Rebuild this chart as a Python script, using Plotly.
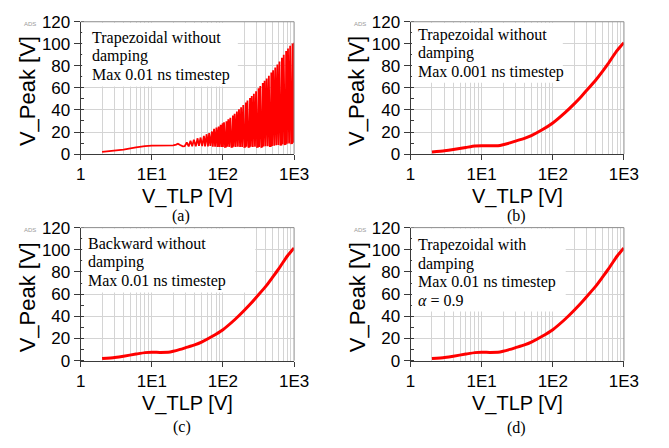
import plotly.graph_objects as go

W, H = 669, 448

# ---------------- data ----------------
V_TLP_SMOOTH = [2, 3, 4, 6, 8, 10, 13, 17, 20, 25, 30, 40, 50, 70, 100, 150, 200, 250, 300, 400, 500, 600, 700, 800, 900, 1000]
VPEAK_B = [1.9, 3.0, 4.1, 6.0, 7.3, 7.6, 7.5, 7.6, 8.5, 10.2, 11.8, 14.3, 16.8, 21.8, 28.2, 37.8, 45.5, 52.0, 57.8, 67.0, 75.0, 82.0, 88.5, 93.8, 97.8, 101.0]
VPEAK_C = [1.9, 3.0, 4.1, 6.0, 7.3, 7.6, 7.5, 7.6, 8.5, 10.2, 11.8, 14.3, 16.8, 21.8, 28.0, 37.6, 45.5, 52.0, 57.8, 67.0, 75.3, 82.3, 88.8, 94.2, 98.3, 101.5]
VPEAK_D = [1.9, 3.0, 4.1, 6.0, 7.3, 7.6, 7.5, 7.6, 8.5, 10.2, 11.8, 14.3, 16.8, 21.8, 28.0, 37.6, 45.5, 52.0, 57.8, 67.0, 75.3, 82.3, 88.8, 94.2, 98.3, 101.5]

# (a) trapezoidal, 0.01 ns: smooth start, ripple, then numerical oscillation
V_TLP_A = [2, 3, 4, 6, 8, 10, 13, 17, 20, 22, 23.3, 25, 27.3, 29,
           31, 33, 35, 37, 39, 41.5, 44, 46, 48.5, 51, 54, 56, 59, 61.5, 64, 66.5,
           70, 72, 75, 77.5, 81, 83.5, 87, 89, 93, 95.5, 99,
           100, 103.5, 107, 110, 112, 115, 119, 123, 127, 132, 136, 138, 141, 146, 151, 157, 162,
           168, 174, 180, 186, 193, 200, 206, 210, 214, 221, 229, 236, 240, 246, 254, 263, 272,
           282, 292, 302, 311, 316, 324, 335, 347, 357, 363, 372, 385, 398, 412, 427, 442, 457,
           470, 478, 490, 507, 525, 543, 562, 582, 602, 623, 645, 664, 674, 691, 715, 740, 762,
           773, 793, 821, 850, 880, 910, 936, 950, 975, 1000, 1000]
VPEAK_A = [1.9, 3.0, 4.1, 6.0, 7.3, 7.6, 7.5, 7.6, 7.9, 8.6, 9.4, 8.2, 7.0, 7.2,
           10.5, 7.0, 12.0, 7.0, 13.0, 7.0, 14.3, 7.5, 15.0, 7.2, 16.5, 7.0, 18.0, 7.0, 19.0, 7.5,
           20.5, 6.8, 23.0, 6.8, 24.0, 6.5, 25.0, 6.5, 26.5, 6.5, 28.0,
           6.5, 28.8, 6.5, 6.6, 29.8, 6.6, 31.6, 6.5, 33.0, 6.5, 6.6, 35.0, 6.6, 36.6, 6.5, 38.6, 6.6,
           40.6, 6.5, 42.4, 6.5, 44.5, 6.5, 6.6, 46.8, 6.6, 48.5, 6.5, 6.6, 50.8, 6.6, 52.6, 6.5, 54.6,
           6.6, 57.0, 6.5, 6.6, 59.6, 6.5, 61.6, 6.5, 6.8, 64.4, 6.8, 66.4, 7.0, 68.6, 7.0, 71.0, 7.2,
           7.2, 74.0, 7.4, 76.0, 7.6, 78.6, 8.0, 81.3, 8.2, 84.0, 8.5, 8.6, 87.4, 8.8, 90.0, 9.0, 9.1,
           93.4, 9.3, 95.8, 9.6, 98.2, 9.8, 9.9, 100.2, 10.2, 101.0, 10.5]

X_TICKVALS = [1, 10, 100, 1000]
X_TICKTEXT = ["1", "1E1", "1E2", "1E3"]
X_MINOR = [2, 3, 4, 5, 6, 7, 8, 9, 20, 30, 40, 50, 60, 70, 80, 90, 200, 300, 400, 500, 600, 700, 800, 900]
Y_TICKVALS = [0, 20, 40, 60, 80, 100, 120]

PANELS = [
    dict(x=V_TLP_A, y=VPEAK_A, lw=1.8, shape="linear", cap="(a)",
         text=["Trapezoidal without", "damping", "Max 0.01 ns timestep"]),
    dict(x=V_TLP_SMOOTH, y=VPEAK_B, lw=3.0, shape="spline", cap="(b)",
         text=["Trapezoidal without", "damping", "Max 0.001 ns timestep"]),
    dict(x=V_TLP_SMOOTH, y=VPEAK_C, lw=3.0, shape="spline", cap="(c)",
         text=["Backward without", "damping", "Max 0.01 ns timestep"]),
    dict(x=V_TLP_SMOOTH, y=VPEAK_D, lw=3.0, shape="spline", cap="(d)",
         text=["Trapezoidal with", "damping", "Max 0.01 ns timestep", "<i>α</i> = 0.9"]),
]

# ---------------- layout geometry (pixels) ----------------
PLOT_X = [(78, 298), (418, 638), (78, 298), (418, 638)]
PLOT_Y = [(13.3, 151.5), (13.3, 151.5), (228.3, 367.3), (228.3, 367.3)]
BOX = [(79.5, 240, 14.3, 81), (419.5, 575, 14.3, 77), (79.5, 258, 229.3, 296), (419.5, 578, 229.3, 316)]
TEXT_X = [88, 424, 83.5, 424]
TEXT_Y0 = [30, 26.7, 245, 26.7 + 220]
CAP_POS = [(181, 216), (527, 216), (182, 437), (527, 438)]

fx = lambda p: p / W
fy = lambda p: 1 - p / H

GRID = "#d4d4d4"
AXC = "#3a3a3a"
SANS = "Liberation Sans, Arial, sans-serif"
SERIF = "Liberation Serif, Times New Roman, serif"

fig = go.Figure()
annotations = []
shapes = []

for i, p in enumerate(PANELS):
    n = i + 1
    xa = "x" if n == 1 else f"x{n}"
    ya = "y" if n == 1 else f"y{n}"
    fig.add_trace(go.Scatter(x=p["x"], y=p["y"], mode="lines", xaxis=xa, yaxis=ya,
                             line=dict(color="#ff0000", width=p["lw"], shape=p["shape"],
                                       **({"smoothing": 0.5} if p["shape"] == "spline" else {})),
                             showlegend=False, hoverinfo="skip"))
    x0, x1 = PLOT_X[i]
    y0, y1 = PLOT_Y[i]
    xkey = "xaxis" if n == 1 else f"xaxis{n}"
    ykey = "yaxis" if n == 1 else f"yaxis{n}"
    fig.update_layout(**{
        xkey: dict(domain=[fx(x0), fx(x1)], anchor=ya, type="log", range=[0, 3],
                   tickmode="array", tickvals=X_TICKVALS, ticktext=X_TICKTEXT,
                   ticks="outside", ticklen=5, tickcolor=AXC,
                   showline=True, linecolor=AXC, linewidth=1,
                   showgrid=True, gridcolor=GRID, gridwidth=1, zeroline=False,
                   tickfont=dict(family=SANS, size=17, color="black"),
                   minor=dict(tickmode="array", tickvals=X_MINOR, showgrid=True,
                              gridcolor=GRID, gridwidth=1, ticks="")),
        ykey: dict(domain=[fy(y1), fy(y0)], anchor=xa, range=[0, 120],
                   tickmode="array", tickvals=Y_TICKVALS,
                   ticks="outside", ticklen=6, tickcolor=AXC,
                   showline=True, linecolor=AXC, linewidth=1,
                   showgrid=True, gridcolor=GRID, gridwidth=1, zeroline=False,
                   tickfont=dict(family=SANS, size=17, color="black"),
                   minor=dict(dtick=10, ticks="inside", ticklen=3, tickcolor=AXC,
                              showgrid=False)),
    })
    # white text box covering grid
    bx0, bx1, by0, by1 = BOX[i]
    shapes.append(dict(type="rect", xref="paper", yref="paper",
                       x0=fx(bx0), x1=fx(bx1), y0=fy(by1), y1=fy(by0),
                       fillcolor="white", line=dict(width=0), layer="above"))
    # frame (top / right in gray)
    shapes.append(dict(type="line", xref="paper", yref="paper",
                       x0=fx(x0), x1=fx(x1), y0=fy(y0), y1=fy(y0),
                       line=dict(color="#8c8c8c", width=1), layer="above"))
    shapes.append(dict(type="line", xref="paper", yref="paper",
                       x0=fx(x1), x1=fx(x1), y0=fy(y0), y1=fy(y1),
                       line=dict(color="#8c8c8c", width=1), layer="above"))
    # text lines
    for k, t in enumerate(p["text"]):
        annotations.append(dict(text=t, xref="paper", yref="paper",
                                x=fx(TEXT_X[i]), y=fy(TEXT_Y0[i] + 19.4 * k),
                                xanchor="left", yanchor="middle", showarrow=False,
                                font=dict(family=SERIF, size=16, color="black")))
    # axis titles
    annotations.append(dict(text="V_TLP [V]", xref="paper", yref="paper",
                            x=fx((x0 + x1) / 2), y=fy(y1 + 44.5),
                            xanchor="center", yanchor="middle", showarrow=False,
                            font=dict(family=SANS, size=20, color="black")))
    annotations.append(dict(text="V_Peak [V]", xref="paper", yref="paper",
                            x=fx(x0 - 55), y=fy((y0 + y1) / 2 + 3), textangle=-90,
                            xanchor="center", yanchor="middle", showarrow=False,
                            font=dict(family=SANS, size=22, color="black")))
    # ADS tag
    annotations.append(dict(text="ADS", xref="paper", yref="paper",
                            x=fx(x0 - 52), y=fy(y0 + 2.5),
                            xanchor="center", yanchor="middle", showarrow=False,
                            font=dict(family=SANS, size=6, color="#9a9a9a")))
    # caption
    cx, cy = CAP_POS[i]
    annotations.append(dict(text=p["cap"], xref="paper", yref="paper",
                            x=fx(cx), y=fy(cy), xanchor="center", yanchor="middle",
                            showarrow=False,
                            font=dict(family=SERIF, size=16, color="black")))

fig.update_layout(width=W, height=H, margin=dict(l=0, r=0, t=0, b=0),
                  paper_bgcolor="white", plot_bgcolor="white",
                  annotations=annotations, shapes=shapes, showlegend=False)

fig.write_html("out.html")
